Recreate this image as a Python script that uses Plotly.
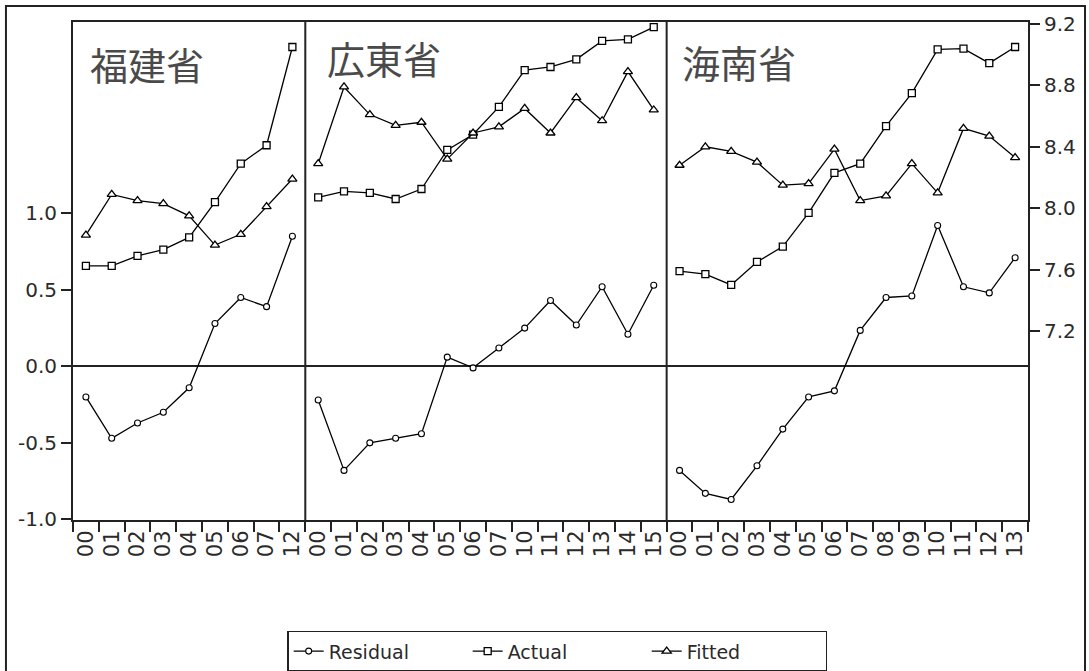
import plotly.graph_objects as go

# Year labels for each province panel
fujian_years = ["00", "01", "02", "03", "04", "05", "06", "07", "12"]
guangdong_years = ["00", "01", "02", "03", "04", "05", "06", "07",
                   "10", "11", "12", "13", "14", "15"]
hainan_years = ["00", "01", "02", "03", "04", "05", "06", "07",
                "08", "09", "10", "11", "12", "13"]

# Residual (left axis), Actual and Fitted (right axis)
fujian_residual = [-0.20, -0.47, -0.37, -0.30, -0.14, 0.28, 0.45, 0.39, 0.85]
fujian_actual = [7.625, 7.625, 7.69, 7.73, 7.81, 8.04, 8.29, 8.41, 9.05]
fujian_fitted = [7.825, 8.09, 8.05, 8.03, 7.95, 7.76, 7.83, 8.01, 8.19]

guangdong_residual = [-0.22, -0.68, -0.50, -0.47, -0.44, 0.06, -0.01,
                      0.12, 0.25, 0.43, 0.27, 0.52, 0.21, 0.53]
guangdong_actual = [8.07, 8.11, 8.10, 8.06, 8.125, 8.38, 8.48,
                    8.66, 8.90, 8.92, 8.97, 9.09, 9.10, 9.18]
guangdong_fitted = [8.29, 8.79, 8.61, 8.54, 8.56, 8.32, 8.49,
                    8.53, 8.65, 8.49, 8.72, 8.57, 8.89, 8.64]

hainan_residual = [-0.68, -0.83, -0.87, -0.65, -0.41, -0.20, -0.16,
                   0.235, 0.45, 0.46, 0.92, 0.52, 0.48, 0.71]
hainan_actual = [7.59, 7.57, 7.50, 7.65, 7.75, 7.97, 8.23,
                 8.29, 8.535, 8.75, 9.035, 9.04, 8.945, 9.05]
hainan_fitted = [8.28, 8.40, 8.37, 8.30, 8.15, 8.16, 8.385,
                 8.05, 8.08, 8.29, 8.10, 8.52, 8.47, 8.33]

province_names = ["福建省", "広東省", "海南省"]

left_ticks = [-1.0, -0.5, 0.0, 0.5, 1.0]
right_ticks = [7.2, 7.6, 8.0, 8.4, 8.8, 9.2]

panels = [
    (fujian_years, fujian_residual, fujian_actual, fujian_fitted),
    (guangdong_years, guangdong_residual, guangdong_actual, guangdong_fitted),
    (hainan_years, hainan_residual, hainan_actual, hainan_fitted),
]

# Lay the three panels side by side on one numeric axis, with gaps
x_all, res_all, act_all, fit_all, labels = [], [], [], [], []
panel_starts = []
pos = 0
for years, res, act, fit in panels:
    panel_starts.append(pos)
    for i, yr in enumerate(years):
        x_all.append(pos + i)
        res_all.append(res[i])
        act_all.append(act[i])
        fit_all.append(fit[i])
        labels.append(yr)
    pos += len(years)
    # break the line between panels
    x_all.append(pos - 0.5)
    res_all.append(None)
    act_all.append(None)
    fit_all.append(None)
n_total = pos
tick_positions = list(range(n_total))

LINE = dict(color="black", width=1.3)
FONT = "DejaVu Sans, Arial, sans-serif"

fig = go.Figure()
fig.add_trace(go.Scatter(
    x=x_all, y=res_all, name="Residual", mode="lines+markers",
    line=LINE, connectgaps=False,
    marker=dict(symbol="circle", size=6, color="white",
                line=dict(color="black", width=1.1)),
    yaxis="y"))
fig.add_trace(go.Scatter(
    x=x_all, y=act_all, name="Actual", mode="lines+markers",
    line=LINE, connectgaps=False,
    marker=dict(symbol="square", size=7, color="white",
                line=dict(color="black", width=1.3)),
    yaxis="y2"))
fig.add_trace(go.Scatter(
    x=x_all, y=fit_all, name="Fitted", mode="lines+markers",
    line=LINE, connectgaps=False,
    marker=dict(symbol="triangle-up", size=8, color="white",
                line=dict(color="black", width=1.3)),
    yaxis="y2"))

# Vertical separators between panels
shapes = []
for start in panel_starts[1:]:
    shapes.append(dict(type="line", xref="x", yref="paper",
                       x0=start - 0.5, x1=start - 0.5, y0=0, y1=1,
                       line=dict(color="#222", width=2)))
# Outer frame around the whole figure (bottom edge runs off the page)
shapes.append(dict(type="rect", xref="paper", yref="paper",
                   x0=-0.0702, x1=1.0597, y0=-0.40, y1=1.032,
                   line=dict(color="#222", width=2), layer="below"))

# Province titles
title_pos = [(0.08, 0.916), (9.26, 0.928), (23.0, 0.92)]
annotations = []
for name, (tx, ty) in zip(province_names, title_pos):
    annotations.append(dict(
        text=name, x=tx, y=ty, xref="x", yref="paper",
        xanchor="left", yanchor="middle", showarrow=False,
        font=dict(family="Noto Sans CJK JP", size=38, color="#4a4a4a")))

fig.update_layout(
    width=1089, height=671,
    margin=dict(l=73, r=61, t=22, b=151, autoexpand=False),
    paper_bgcolor="white", plot_bgcolor="white",
    font=dict(family=FONT, size=20, color="#2a2a2a"),
    showlegend=True,
    legend=dict(orientation="h", x=0.507, xanchor="center",
                yref="container", y=0.060, yanchor="top",
                bordercolor="#222", borderwidth=1.5,
                font=dict(family=FONT, size=19, color="#2a2a2a"),
                entrywidth=134, entrywidthmode="pixels",
                bgcolor="white"),
    xaxis=dict(
        range=[-0.5, n_total - 0.5],
        tickmode="array", tickvals=tick_positions, ticktext=labels,
        tickangle=-90, ticks="",
        minor=dict(tickmode="array",
                   tickvals=[p - 0.5 for p in range(n_total + 1)],
                   ticks="outside", ticklen=10, tickwidth=1.8,
                   tickcolor="#222", showgrid=False),
        showgrid=False, zeroline=False, automargin=False,
        showline=True, linecolor="#222", linewidth=2, mirror=True,
        tickfont=dict(family=FONT, size=21, color="#2a2a2a"),
    ),
    yaxis=dict(
        range=[-1.004, 2.25], automargin=False,
        tickmode="array", tickvals=left_ticks,
        ticktext=[f"{v:.1f}" for v in left_ticks],
        ticks="outside", ticklen=10, tickwidth=1.8, tickcolor="#222",
        showgrid=False, zeroline=True, zerolinecolor="#222",
        zerolinewidth=1.8,
        showline=True, linecolor="#222", linewidth=2,
        tickfont=dict(family=FONT, size=20, color="#2a2a2a"),
    ),
    yaxis2=dict(
        range=[5.969, 9.213], overlaying="y", side="right",
        automargin=False,
        tickmode="array", tickvals=right_ticks,
        ticktext=[f"{v:.1f}" for v in right_ticks],
        ticks="outside", ticklen=10, tickwidth=1.8, tickcolor="#222",
        showgrid=False, zeroline=False,
        showline=True, linecolor="#222", linewidth=2,
        tickfont=dict(family=FONT, size=20, color="#2a2a2a"),
    ),
    shapes=shapes,
    annotations=annotations,
)

fig.write_html("out.html")
